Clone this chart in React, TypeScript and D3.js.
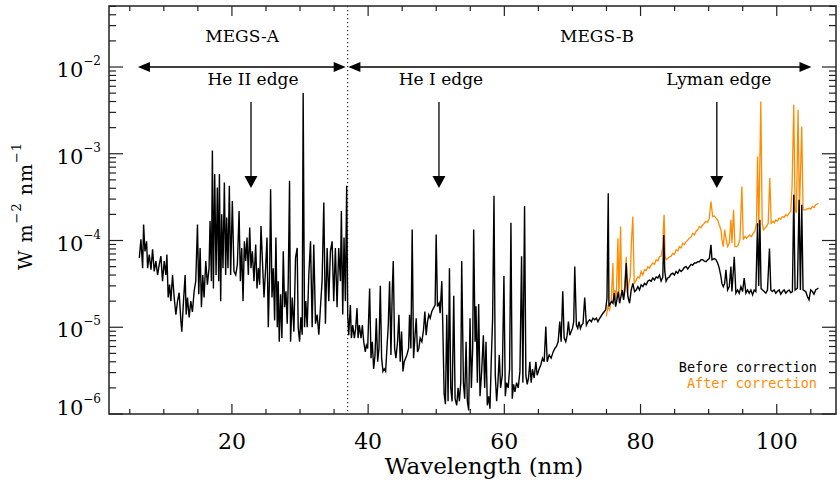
import * as d3 from "d3";

// wavelength (nm), irradiance in units of 1e-6 W m^-2 nm^-1
const megsABefore: [number, number][] = [
  [6.40, 63], [6.64, 103], [6.89, 48], [7.03, 153], [7.23, 75], [7.47, 98], [7.62, 48], [7.86, 69],
  [8.11, 46], [8.35, 79], [8.59, 44], [8.84, 58], [9.08, 40], [9.33, 53], [9.57, 66], [9.81, 34],
  [10.06, 58], [10.30, 40], [10.45, 69], [10.64, 22], [10.84, 31], [11.03, 20], [11.28, 40], [11.52, 22],
  [11.77, 14], [12.01, 20], [12.25, 25], [12.50, 12], [12.64, 8.9], [12.89, 20], [13.13, 40], [13.28, 14],
  [13.47, 22], [13.72, 13], [13.96, 20], [14.20, 15], [14.45, 26], [14.69, 34], [14.94, 153], [15.13, 24],
  [15.33, 82], [15.52, 17], [15.72, 40], [15.91, 22], [16.16, 58], [16.40, 31], [16.64, 48], [16.79, 168],
  [16.99, 34], [17.13, 1087], [17.28, 28], [17.47, 583], [17.67, 40], [17.86, 409], [18.06, 34], [18.16, 583],
  [18.35, 20], [18.50, 201], [18.69, 48], [18.89, 467], [19.08, 40], [19.23, 184], [19.42, 48], [19.62, 427],
  [19.81, 40], [20.06, 286], [20.30, 44], [20.56, 40], [20.80, 53], [21.05, 219], [21.24, 34], [21.44, 82],
  [21.63, 20], [21.83, 98], [22.02, 58], [22.22, 108], [22.41, 40], [22.61, 141], [22.80, 48], [23.00, 75],
  [23.24, 34], [23.49, 90], [23.68, 28], [23.88, 48], [24.07, 31], [24.27, 147], [24.46, 63], [24.71, 22],
  [24.95, 48], [25.15, 108], [25.34, 10], [25.54, 44], [25.68, 391], [25.88, 22], [26.07, 48], [26.27, 12],
  [26.46, 108], [26.66, 10], [26.80, 34], [26.95, 6.8], [27.15, 24], [27.34, 7.5], [27.54, 75], [27.73, 17],
  [27.93, 26], [28.12, 11], [28.27, 34], [28.46, 488], [28.61, 6.8], [28.85, 22], [29.10, 8.9], [29.34, 63],
  [29.58, 82], [29.73, 10], [29.93, 6.8], [30.12, 13], [30.32, 8.2], [30.46, 5000], [30.66, 10], [30.85, 20],
  [31.05, 10], [31.29, 40], [31.54, 98], [31.78, 10], [32.02, 90], [32.27, 11], [32.51, 14], [32.76, 8.2],
  [33.00, 17], [33.24, 34], [33.49, 274], [33.73, 11], [33.98, 82], [34.22, 20], [34.46, 75], [34.71, 98],
  [34.95, 20], [35.19, 82], [35.44, 17], [35.68, 82], [35.93, 34], [36.07, 219], [36.27, 14], [36.46, 108],
  [36.66, 20], [36.85, 427],
];

const megsBBefore: [number, number][] = [
  [37.00, 13.9], [37.15, 8.1], [37.39, 18], [37.54, 7.5], [37.74, 10.6], [37.98, 7.5], [38.17, 9.7], [38.37, 16.6],
  [38.52, 7.5], [38.71, 10.6], [38.96, 7.5], [39.15, 10.6], [39.35, 6.8], [39.59, 5.2], [39.74, 6.2], [39.93, 5.7],
  [40.22, 28], [40.42, 4.4], [40.61, 6.8], [40.81, 3.3], [41.01, 4.8], [41.20, 12.7], [41.40, 4.0], [41.59, 5.7],
  [41.79, 30], [41.98, 4.4], [42.18, 3.1], [42.37, 3.3], [42.57, 3.1], [42.76, 5.7], [42.96, 10.6], [43.15, 34],
  [43.35, 4.8], [43.54, 26], [43.69, 58], [43.89, 5.7], [44.08, 4.4], [44.32, 6.8], [44.52, 13.9], [44.71, 4.0],
  [44.91, 8.9], [45.11, 3.1], [45.30, 4.0], [45.50, 4.4], [45.69, 4.8], [45.94, 5.7], [46.08, 13.9], [46.28, 5.7],
  [46.47, 134], [46.67, 4.4], [46.86, 7.5], [47.06, 12.7], [47.25, 5.2], [47.45, 5.7], [47.64, 7.5], [47.89, 6.8],
  [48.13, 9.3], [48.33, 15.2], [48.52, 8.1], [48.72, 11.6], [48.91, 13.9], [49.11, 12.7], [49.35, 15.2], [49.60, 16.6],
  [49.84, 18], [49.99, 117], [50.18, 17.4], [50.43, 19], [50.57, 14.5], [50.82, 34], [50.96, 10.6], [51.16, 1.7],
  [51.35, 1.3], [51.55, 13.9], [51.74, 1.4], [51.94, 48], [52.13, 2.0], [52.33, 1.4], [52.57, 23], [52.77, 1.5],
  [53.01, 1.26], [53.21, 2.0], [53.40, 1.4], [53.60, 2.3], [53.74, 58], [53.99, 2.3], [54.18, 1.5], [54.38, 6.8],
  [54.57, 1.4], [54.77, 1.1], [54.96, 12.7], [55.16, 2.0], [55.35, 5.7], [55.50, 134], [55.70, 6.8], [55.84, 17.4],
  [56.04, 2.3], [56.23, 18.5], [56.43, 1.6], [56.67, 3.1], [56.92, 8.1], [57.11, 2.0], [57.31, 6.8], [57.50, 1.26],
  [57.70, 1.6], [57.89, 1.15], [58.09, 4.4], [58.28, 12.7], [58.48, 327], [58.67, 2.8], [58.87, 1.4], [59.06, 2.3],
  [59.26, 4.8], [59.45, 2.0], [59.70, 2.8], [59.94, 39], [60.14, 1.6], [60.33, 2.3], [60.57, 2.0], [60.77, 3.3],
  [60.97, 160], [61.16, 1.5], [61.36, 2.2], [61.55, 1.8], [61.80, 2.3], [62.04, 2.0], [62.29, 3.1], [62.53, 66],
  [62.72, 2.3], [62.97, 250], [63.16, 2.8], [63.36, 2.2], [63.55, 2.6], [63.75, 4.0], [63.94, 2.3], [64.14, 3.3],
  [64.38, 2.6], [64.63, 4.0], [64.82, 2.8], [65.11, 3.3], [65.36, 3.7], [65.60, 4.4], [65.85, 4.0], [66.09, 10.2],
  [66.29, 4.0], [66.58, 4.8], [66.87, 4.4], [67.17, 5.2], [67.41, 5.7], [67.65, 6.0], [67.90, 6.8], [68.14, 11.6],
  [68.34, 6.8], [68.58, 26], [68.78, 7.5], [69.02, 6.8], [69.22, 8.1], [69.41, 11.6], [69.61, 8.1], [69.80, 8.9],
  [70.00, 9.7], [70.19, 11.6], [70.34, 50], [70.58, 10.6], [70.78, 9.7], [70.97, 11.6], [71.17, 9.7], [71.36, 10.6],
  [71.56, 11.1], [71.80, 22], [72.05, 10.6], [72.29, 11.6], [72.53, 12.2], [72.78, 11.6], [73.02, 12.7], [73.27, 12.2],
  [73.51, 12.7], [73.75, 11.6], [74.00, 12.7], [74.48, 14.5], [74.87, 15.8], [75.07, 21.6], [75.26, 351], [75.36, 17.3],
  [75.56, 18.9], [75.75, 19.8], [75.95, 18.9], [76.14, 24.7], [76.34, 17.3], [76.53, 20.7], [76.73, 25.8], [76.92, 18.9],
  [77.12, 22.6], [77.31, 26.9], [77.51, 20.7], [77.70, 26.9], [77.90, 55], [78.14, 22.6], [78.39, 18.9], [78.63, 26.9],
  [78.87, 32], [79.12, 25.8], [79.36, 26.9], [79.61, 29.4], [79.85, 26.9], [80.09, 30.8], [80.34, 29.4], [80.58, 32],
  [80.83, 30.8], [81.07, 34], [81.31, 35], [81.56, 34], [81.80, 37], [82.05, 35], [82.29, 38], [82.54, 37],
  [82.78, 40], [83.02, 34], [83.27, 38], [83.41, 116], [83.56, 44], [83.75, 34], [84.00, 37], [84.24, 38],
  [84.49, 41], [84.73, 42], [84.98, 40], [85.22, 44], [85.47, 42], [85.71, 46], [85.96, 44], [86.20, 46],
  [86.44, 49], [86.68, 50], [86.93, 47], [87.17, 50], [87.42, 53], [87.66, 52], [87.90, 55], [88.15, 55],
  [88.39, 57], [88.64, 57], [88.88, 60], [89.12, 60], [89.37, 58], [89.61, 57], [89.86, 60], [90.10, 62],
  [90.34, 89], [90.49, 60], [90.83, 62], [91.08, 60], [91.32, 55], [91.56, 48], [91.81, 38], [91.95, 32],
  [92.15, 29.4], [92.35, 32], [92.54, 46], [92.78, 26.9], [93.03, 29.4], [93.27, 50], [93.42, 25.8], [93.76, 65],
  [94.00, 24.7], [94.25, 26.9], [94.49, 24.7], [94.74, 29.4], [94.98, 25.8], [95.22, 37], [95.47, 24.7], [95.71, 26.9],
  [95.96, 24.7], [96.20, 26.9], [96.45, 23.6], [96.69, 26.9], [96.93, 25.8], [97.18, 158], [97.35, 30], [97.52, 173],
  [97.70, 28], [97.91, 26.9], [98.15, 25.8], [98.40, 24.7], [98.64, 26.9], [98.93, 81], [99.13, 26.9], [99.37, 25.8],
  [99.62, 27], [99.86, 24.7], [100.10, 26], [100.35, 26.9], [100.59, 24], [100.84, 25.8], [101.08, 27], [101.33, 24.7],
  [101.57, 26], [101.81, 26.9], [102.06, 25], [102.30, 25.8], [102.50, 336], [102.69, 26.9], [103.03, 28.2], [103.28, 294],
  [103.47, 26.9], [103.67, 258], [103.86, 26.9], [104.25, 25.8], [104.50, 22.6], [104.74, 20.7], [104.98, 26.9], [105.23, 25.8],
  [105.47, 24], [105.72, 26.9], [106.11, 28.2],
];

const megsBAfter: [number, number][] = [
  [74.97, 13.3], [75.21, 17.3], [75.46, 15.8], [75.70, 20.7], [75.95, 55], [76.04, 18.9], [76.24, 26.9], [76.43, 20.7],
  [76.68, 106], [76.82, 22.6], [77.07, 145], [77.22, 26.9], [77.41, 22.6], [77.65, 28.2], [77.90, 65], [78.04, 24.7],
  [78.29, 32], [78.48, 38], [78.68, 102], [78.87, 189], [79.07, 32], [79.36, 35], [79.61, 38], [79.85, 37],
  [80.09, 44], [80.34, 40], [80.58, 46], [80.83, 45], [81.07, 50], [81.31, 48], [81.56, 52], [81.80, 55],
  [82.05, 53], [82.29, 60], [82.54, 58], [82.78, 65], [83.02, 66], [83.27, 85], [83.36, 145], [83.46, 198],
  [83.61, 65], [83.75, 60], [84.00, 62], [84.24, 65], [84.49, 66], [84.73, 71], [84.98, 69], [85.22, 78],
  [85.47, 76], [85.71, 85], [85.96, 82], [86.20, 93], [86.44, 90], [86.68, 97], [86.93, 101], [87.17, 106],
  [87.42, 110], [87.66, 121], [87.90, 116], [88.15, 127], [88.39, 133], [88.64, 145], [88.88, 140], [89.12, 151],
  [89.37, 158], [89.61, 166], [89.86, 162], [90.10, 181], [90.34, 282], [90.59, 189], [90.83, 192], [91.08, 181],
  [91.32, 173], [91.56, 151], [91.81, 133], [91.95, 102], [92.15, 85], [92.35, 133], [92.54, 106], [92.78, 85],
  [93.03, 93], [93.27, 173], [93.42, 93], [93.66, 226], [93.86, 85], [94.10, 85], [94.35, 89], [94.59, 102],
  [94.88, 420], [95.08, 102], [95.32, 111], [95.57, 106], [95.81, 111], [96.05, 116], [96.30, 111], [96.54, 121],
  [96.79, 127], [97.03, 158], [97.18, 931], [97.37, 145], [97.66, 4012], [97.86, 158], [98.05, 133], [98.25, 139],
  [98.50, 145], [98.74, 158], [98.98, 524], [99.18, 158], [99.47, 166], [99.66, 160], [99.86, 173], [100.10, 168],
  [100.35, 181], [100.59, 176], [100.84, 189], [101.08, 185], [101.33, 198], [101.57, 192], [101.81, 207], [102.06, 216],
  [102.25, 420], [102.50, 3676], [102.69, 226], [102.89, 207], [103.13, 3220], [103.33, 216], [103.67, 2066], [103.86, 226],
  [104.25, 226], [104.50, 232], [104.74, 236], [104.98, 230], [105.23, 247], [105.47, 240], [105.72, 258], [106.11, 269],
];

const xMajorTicks = [20, 40, 60, 80, 100];
const xMinorTicks = [5, 10, 15, 25, 30, 35, 45, 50, 55, 65, 70, 75, 85, 90, 95, 105];
const yExponents = [-6, -5, -4, -3, -2];

const channels = [
  { name: "MEGS-A", from: 6.2, to: 36.7, labelAt: 21.5 },
  { name: "MEGS-B", from: 37.1, to: 105.1, labelAt: 73.6 },
];
const edges = [
  { name: "He II edge", wl: 22.8 },
  { name: "He I edge", wl: 50.4 },
  { name: "Lyman edge", wl: 91.2 },
];
const channelBoundary = 37.0;
const arrowLevel = 1e-2;

const serif = "'DejaVu Serif', serif";
const axisColor = "#222";

export default function App() {
  const left = 109, right = 836, top = 6, bottom = 414;
  const yTop = 0.0505;
  const x = d3.scaleLinear().domain([1.95, 108.7]).range([left, right]);
  const y = d3.scaleLog().domain([1e-6, yTop]).range([bottom, top]);

  const line = d3
    .line<[number, number]>()
    .x((d) => x(d[0]))
    .y((d) => y(d[1] * 1e-6));

  const before = [...megsABefore, ...megsBBefore];

  const yMinor: number[] = [];
  yExponents.forEach((e) => {
    for (let k = 2; k <= 9; k++) {
      const v = k * Math.pow(10, e);
      if (v <= yTop) yMinor.push(v);
    }
  });

  const ay = y(arrowLevel);
  const hl = 12, hw = 5;

  return (
    <svg width={840} height={480} style={{ position: "absolute", left: 0, top: 0 }}>
      <rect width={840} height={480} fill="#fff" />
      <defs>
        <clipPath id="plot">
          <rect x={left} y={top} width={right - left} height={bottom - top} />
        </clipPath>
      </defs>

      {/* spectra */}
      <g clipPath="url(#plot)">
        <path d={line(megsBAfter) ?? ""} fill="none" stroke="#ff8c00" strokeWidth={1.3} />
        <path d={line(before) ?? ""} fill="none" stroke="#000" strokeWidth={1.4} />
      </g>

      {/* channel boundary */}
      <line x1={x(channelBoundary)} x2={x(channelBoundary)} y1={top} y2={bottom}
        stroke="#000" strokeWidth={1} strokeDasharray="1.2,2.8" />

      {/* channel arrows */}
      {channels.map((c) => {
        const x1 = x(c.from), x2 = x(c.to);
        return (
          <g key={c.name}>
            <line x1={x1 + hl - 1} x2={x2 - hl + 1} y1={ay} y2={ay} stroke="#000" strokeWidth={1.4} />
            <path d={`M${x1},${ay}L${x1 + hl},${ay - hw}L${x1 + hl},${ay + hw}Z`} fill="#000" />
            <path d={`M${x2},${ay}L${x2 - hl},${ay - hw}L${x2 - hl},${ay + hw}Z`} fill="#000" />
            <text x={x(c.labelAt)} y={42} textAnchor="middle" fontFamily={serif} fontSize={17}>{c.name}</text>
          </g>
        );
      })}

      {/* edge markers */}
      {edges.map((e) => {
        const ex = x(e.wl);
        return (
          <g key={e.name}>
            <line x1={ex} x2={ex} y1={102} y2={178} stroke="#000" strokeWidth={1.3} />
            <path d={`M${ex - 6.5},${176}L${ex + 6.5},${176}L${ex},${188}Z`} fill="#000" />
            <text x={ex + 2} y={85} textAnchor="middle" fontFamily={serif} fontSize={17}>{e.name}</text>
          </g>
        );
      })}

      {/* frame */}
      <rect x={left} y={top} width={right - left} height={bottom - top} fill="none" stroke={axisColor} strokeWidth={1.5} />

      {/* x ticks */}
      {xMajorTicks.map((t) => (
        <g key={"xM" + t}>
          <line x1={x(t)} x2={x(t)} y1={bottom} y2={bottom - 10} stroke={axisColor} strokeWidth={1.2} />
          <line x1={x(t)} x2={x(t)} y1={top} y2={top + 10} stroke={axisColor} strokeWidth={1.2} />
          <text x={x(t)} y={449} textAnchor="middle" fontFamily={serif} fontSize={22}>{t}</text>
        </g>
      ))}
      {xMinorTicks.map((t) => (
        <g key={"xm" + t}>
          <line x1={x(t)} x2={x(t)} y1={bottom} y2={bottom - 5} stroke={axisColor} strokeWidth={1.2} />
          <line x1={x(t)} x2={x(t)} y1={top} y2={top + 5} stroke={axisColor} strokeWidth={1.2} />
        </g>
      ))}

      {/* y ticks */}
      {yExponents.map((e) => {
        const ty = y(Math.pow(10, e));
        return (
          <g key={"yM" + e}>
            <line x1={left} x2={left + 14} y1={ty} y2={ty} stroke={axisColor} strokeWidth={1.2} />
            <line x1={right} x2={right - 14} y1={ty} y2={ty} stroke={axisColor} strokeWidth={1.2} />
            <text x={101} y={Math.min(ty + 10, bottom + 1)} textAnchor="end" fontFamily={serif} fontSize={21}>
              10<tspan dy={-12} fontSize={12}>{"\u2212" + Math.abs(e)}</tspan>
            </text>
          </g>
        );
      })}
      {yMinor.map((v, i) => (
        <g key={"ym" + i}>
          <line x1={left} x2={left + 7} y1={y(v)} y2={y(v)} stroke={axisColor} strokeWidth={1.2} />
          <line x1={right} x2={right - 7} y1={y(v)} y2={y(v)} stroke={axisColor} strokeWidth={1.2} />
        </g>
      ))}

      {/* axis titles */}
      <text x={484} y={474} textAnchor="middle" fontFamily={serif} fontSize={23}>Wavelength (nm)</text>
      <text transform="translate(32,206) rotate(-90)" textAnchor="middle" fontFamily={serif} fontSize={19} letterSpacing={1}>
        W m<tspan dy={-11} fontSize={13}>{"\u22122"}</tspan>
        <tspan dy={11}> nm</tspan>
        <tspan dy={-11} fontSize={13}>{"\u22121"}</tspan>
      </text>

      {/* legend */}
      <text x={817} y={372} textAnchor="end" fontFamily="'DejaVu Sans Mono', monospace" fontSize={13.5} fill="#000">Before correction</text>
      <text x={817} y={388} textAnchor="end" fontFamily="'DejaVu Sans Mono', monospace" fontSize={13.5} fill="#ff8c00">After correction</text>
    </svg>
  );
}
